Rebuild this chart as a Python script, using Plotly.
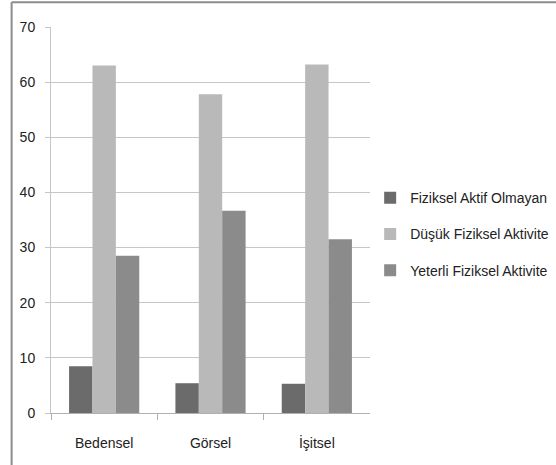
import plotly.graph_objects as go

categories = ["Bedensel", "Görsel", "İşitsel"]
series_names = ["Fiziksel Aktif Olmayan", "Düşük Fiziksel Aktivite", "Yeterli Fiziksel Aktivite"]
inactive = [8.5, 5.4, 5.3]
low_activity = [63.0, 57.8, 63.2]
sufficient = [28.5, 36.7, 31.5]
y_ticks = [0, 10, 20, 30, 40, 50, 60, 70]

colors = ["#6b6b6b", "#b9b9b9", "#8b8b8b"]
font_family = "Liberation Sans, Arial, sans-serif"

fig = go.Figure()
for i, (name, vals) in enumerate(zip(series_names, [inactive, low_activity, sufficient])):
    fig.add_trace(go.Bar(
        x=categories, y=vals, name=name,
        marker=dict(color=colors[i], line=dict(width=0)),
        legendgroup=f"g{i}",
    ))

fig.update_layout(
    width=556, height=465,
    margin=dict(l=51, r=0, t=27, b=52),
    paper_bgcolor="white", plot_bgcolor="white",
    barmode="group", bargap=0.34, bargroupgap=0,
    font=dict(family=font_family, size=14, color="#222222"),
    showlegend=True,
    legend=dict(
        x=0.632, xanchor="left", y=0.598, yanchor="top",
        font=dict(family=font_family, size=14, color="#222222"),
        tracegroupgap=15, itemwidth=30,
        bgcolor="rgba(0,0,0,0)",
    ),
    xaxis=dict(
        domain=[0, 0.6317],
        showgrid=False, showline=True, linecolor="#b0b0b0", linewidth=1,
        ticks="outside", tickson="boundaries", ticklen=6, tickcolor="#b0b0b0",
        ticklabelstandoff=17,
    ),
    yaxis=dict(
        range=[0, 70], tickvals=y_ticks,
        showgrid=True, gridcolor="#c6c6c6", gridwidth=1,
        showline=True, linecolor="#c6c6c6", linewidth=1,
        ticks="outside", ticklen=5, tickcolor="#c6c6c6",
        ticklabelstandoff=7, zeroline=False,
    ),
    shapes=[
        dict(type="line", xref="paper", yref="paper",
             x0=-0.078, x1=1.0, y0=1.064, y1=1.064,
             line=dict(color="#8c8c8c", width=2)),
        dict(type="line", xref="paper", yref="paper",
             x0=-0.078, x1=-0.078, y0=1.064, y1=-0.14,
             line=dict(color="#8c8c8c", width=2)),
    ],
)

fig.write_html("out.html")
